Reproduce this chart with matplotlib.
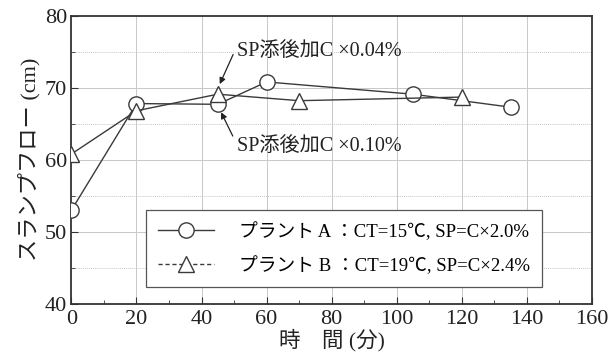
import numpy as np
import matplotlib.pyplot as plt
from matplotlib.lines import Line2D
from matplotlib.ticker import MultipleLocator

plt.rcParams['font.family'] = ['Liberation Serif', 'Noto Sans CJK JP', 'DejaVu Sans']

# slump flow over time for the two plants
time_a = [0, 20, 45, 60, 105, 135]
flow_a = [53.0, 67.8, 67.7, 70.8, 69.1, 67.3]
time_b = [0, 20, 45, 70, 120]
flow_b = [60.8, 66.8, 69.1, 68.2, 68.7]

label_a = "プラント A ：CT=15℃, SP=C×2.0%"
label_b = "プラント B ：CT=19℃, SP=C×2.4%"
note_top = "SP添後加C ×0.04%"
note_bottom = "SP添後加C ×0.10%"

fig = plt.figure(figsize=(6.1, 3.63), dpi=100)
ax = fig.add_axes([0.117, 0.1625, 0.8535, 0.7945])

line_col = '#3a3a3a'

ax.set_xlim(0, 160)
ax.set_ylim(40, 80)
ax.xaxis.set_major_locator(MultipleLocator(20))
ax.xaxis.set_minor_locator(MultipleLocator(10))
ax.yaxis.set_major_locator(MultipleLocator(10))
ax.yaxis.set_minor_locator(MultipleLocator(5))

# light grid: every 20 min vertically, every 5 cm horizontally
for x in range(20, 160, 20):
    ax.axvline(x, color='#c8c8c8', lw=0.7, zorder=0)
for y in range(45, 80, 5):
    ax.axhline(y, color='#c8c8c8', lw=0.7, ls=(0, (1, 1)) if y % 10 else '-', zorder=0)

ax.plot(time_a, flow_a, color=line_col, lw=1.0, marker='o', ms=11,
        mfc='white', mec=line_col, mew=1.0, zorder=3)
ax.plot(time_b, flow_b, color=line_col, lw=1.0, marker='^', ms=11,
        mfc='white', mec=line_col, mew=1.0, zorder=3)

# notes on the re-dosing at 45 min, arrows drawn separately from the text
arrow = dict(arrowstyle='-|>', color='#222222', lw=0.9,
             shrinkA=0, shrinkB=0, mutation_scale=9)
ax.text(50.8, 75.0, note_top, fontsize=14.5, va='center', ha='left', color='#222222')
ax.annotate('', xy=(45.6, 70.5), xytext=(49.7, 74.6), arrowprops=arrow)
ax.text(50.8, 61.9, note_bottom, fontsize=14.5, va='center', ha='left', color='#222222')
ax.annotate('', xy=(46.0, 66.6), xytext=(49.6, 63.3), arrowprops=arrow)

handles = [
    Line2D([], [], color=line_col, lw=1.0, marker='o', ms=11, mfc='white', mec=line_col),
    Line2D([], [], color=line_col, lw=1.0, ls=(0, (3, 2)), marker='^', ms=11,
           mfc='white', mec=line_col),
]
leg = ax.legend(handles, [label_a, label_b], loc='lower left',
                bbox_to_anchor=(0.143, 0.059), fontsize=13.5, frameon=True,
                fancybox=False, edgecolor='#555555', framealpha=1,
                handlelength=3.0, handletextpad=1.3, labelspacing=0.8,
                borderpad=0.65, borderaxespad=0)
leg.get_frame().set_linewidth(0.9)
leg.set_zorder(5)

for s in ax.spines.values():
    s.set_color('#333333')
    s.set_linewidth(1.3)
ax.tick_params(which='both', direction='in', colors='#333333', labelcolor='#222222')
ax.tick_params(which='major', length=5, labelsize=16)
ax.tick_params(which='minor', length=3)
ax.tick_params(axis='x', pad=4)
ax.tick_params(axis='y', pad=3)

ax.set_xlabel("時　間 (分)", fontsize=15.5, color='#222222', labelpad=0)
ax.set_ylabel("スランプフロー (cm)", fontsize=16, color='#222222', labelpad=3)

fig.savefig('out.png', dpi=100)
